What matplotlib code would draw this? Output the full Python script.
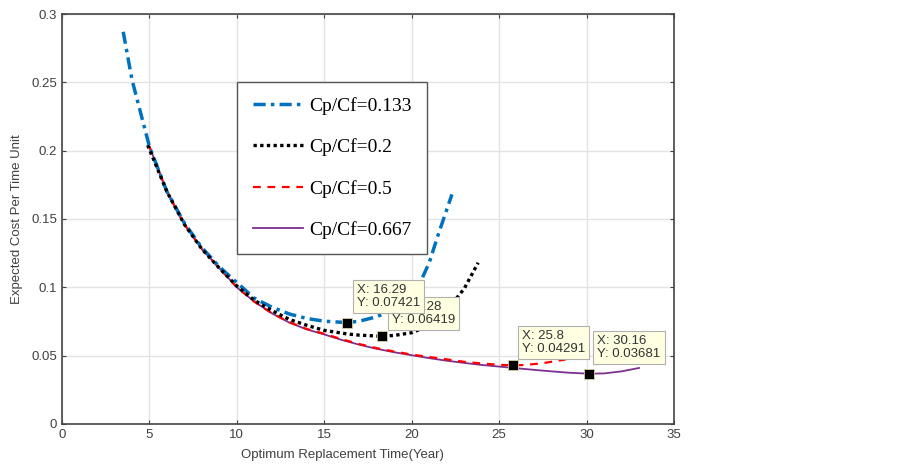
import matplotlib
matplotlib.use("Agg")
import matplotlib.pyplot as plt

# Cp/Cf = 0.133
x_133 = [3.5, 4, 5, 6, 7, 8, 9, 10, 11, 12, 13, 14, 15, 16.29, 17, 18, 19, 20, 20.5, 21, 21.5, 22.3]
y_133 = [0.287, 0.252, 0.203, 0.170, 0.147, 0.129, 0.115, 0.1035, 0.092, 0.0855, 0.0805, 0.0772, 0.0752,
         0.07421, 0.0752, 0.0785, 0.0840, 0.095, 0.104, 0.118, 0.138, 0.168]

# Cp/Cf = 0.2
x_2 = [4.9, 6, 7, 8, 9, 10, 11, 12, 13, 14, 15, 16.3, 17, 18.28, 19, 20, 21, 22, 23, 23.8]
y_2 = [0.204, 0.170, 0.146, 0.128, 0.114, 0.101, 0.0905, 0.083, 0.0765, 0.0722, 0.0685, 0.0659, 0.065,
       0.06419, 0.0648, 0.0668, 0.072, 0.083, 0.099, 0.118]

# Cp/Cf = 0.5
x_5 = [5, 6, 7, 8, 9, 10, 11, 12, 13, 14, 15, 16, 17, 18, 19, 20, 21, 22, 23, 24, 25, 25.8, 26.5, 27.5, 28.8]
y_5 = [0.203, 0.170, 0.146, 0.128, 0.114, 0.1, 0.0895, 0.081, 0.0745, 0.0695, 0.066, 0.062, 0.0585, 0.0555,
       0.053, 0.0508, 0.049, 0.0473, 0.0455, 0.0443, 0.0433, 0.04291, 0.0432, 0.0445, 0.0472]

# Cp/Cf = 0.667
x_667 = [5, 6, 7, 8, 9, 10, 11, 12, 13, 14, 15, 16, 17, 18, 19, 20, 21, 22, 23, 24, 25, 26, 27, 28, 29,
         30.16, 31, 32, 33]
y_667 = [0.203, 0.170, 0.146, 0.128, 0.114, 0.1, 0.0895, 0.081, 0.0742, 0.0692, 0.0655, 0.0615, 0.058, 0.055,
         0.0525, 0.0503, 0.0482, 0.0463, 0.0447, 0.0432, 0.042, 0.0408, 0.0396, 0.0385, 0.0375, 0.03681, 0.037,
         0.0385, 0.041]

labels = ["Cp/Cf=0.133", "Cp/Cf=0.2", "Cp/Cf=0.5", "Cp/Cf=0.667"]

# data tips (minimum points)
tip_x = [18.28, 16.29, 25.8, 30.16]
tip_y = [0.06419, 0.07421, 0.04291, 0.03681]
tip_off = [(10, 10), (10, 14), (9, 10), (8, 14)]

fig = plt.figure(figsize=(9, 4.7), dpi=100)
ax = fig.add_axes([0.0689, 0.0979, 0.68, 0.8723])

ln_p, = ax.plot(x_667, y_667, color="#7E2F8E", lw=1.3, zorder=2)
ln_r, = ax.plot(x_5, y_5, color="#FF0000", lw=1.6, linestyle=(0, (3.5, 3)), zorder=3)
ln_b, = ax.plot(x_133, y_133, color="#0072BD", lw=2.5, linestyle=(0, (3.5, 1.5, 1, 1.5)), zorder=4)
ln_k, = ax.plot(x_2, y_2, color="black", lw=2.4, linestyle=(0, (1, 1)), zorder=5)

ax.set_xlim(0, 35)
ax.set_ylim(0, 0.3)
ax.set_xticks(range(0, 36, 5))
ax.set_yticks([0, 0.05, 0.1, 0.15, 0.2, 0.25, 0.3])
ax.set_yticklabels(["0", "0.05", "0.1", "0.15", "0.2", "0.25", "0.3"])
ax.grid(True, color="#e3e3e3", lw=1)
ax.set_axisbelow(True)
ax.tick_params(direction="in", length=3, top=True, right=True, labelsize=9.5,
               labelcolor="#404040", color="#404040")
for s in ax.spines.values():
    s.set_color("#444444")
    s.set_linewidth(1.2)

ax.set_xlabel("Optimum Replacement Time(Year)", fontsize=9.5, color="#404040",
              family="Liberation Sans", labelpad=3)
ax.xaxis.set_label_coords(0.459, -0.06)
ax.set_ylabel("Expected Cost Per Time Unit", fontsize=9.5, color="#404040",
              family="Liberation Sans", labelpad=6)
for t in ax.get_xticklabels() + ax.get_yticklabels():
    t.set_family("Liberation Sans")

# data tips
for i in range(len(tip_x)):
    ax.plot(tip_x[i], tip_y[i], "s", color="black", ms=6.5, mec="#d8d0a0", mew=0.6, zorder=10)
    ax.annotate("X: %g\nY: %g" % (tip_x[i], tip_y[i]), (tip_x[i], tip_y[i]),
                xytext=tip_off[i], textcoords="offset pixels", ha="left", va="bottom",
                fontsize=9.5, color="#333333", family="Liberation Sans", linespacing=1.1,
                bbox=dict(boxstyle="square,pad=0.3", fc="#FFFFE1", ec="#b0b0b0", lw=0.8),
                zorder=11 + (1 if i == 1 else 0))

leg = ax.legend([ln_b, ln_k, ln_r, ln_p], labels, loc="upper left",
                bbox_to_anchor=(0.286, 0.835), bbox_transform=ax.transAxes, borderaxespad=0,
                prop={"family": "Liberation Serif", "size": 14}, handlelength=2.6,
                handletextpad=0.3, labelspacing=1.2, borderpad=0.8, fancybox=False,
                framealpha=1, edgecolor="#555555")
leg.get_frame().set_linewidth(1.0)
leg.set_zorder(20)

fig.savefig("out.png", dpi=100)
